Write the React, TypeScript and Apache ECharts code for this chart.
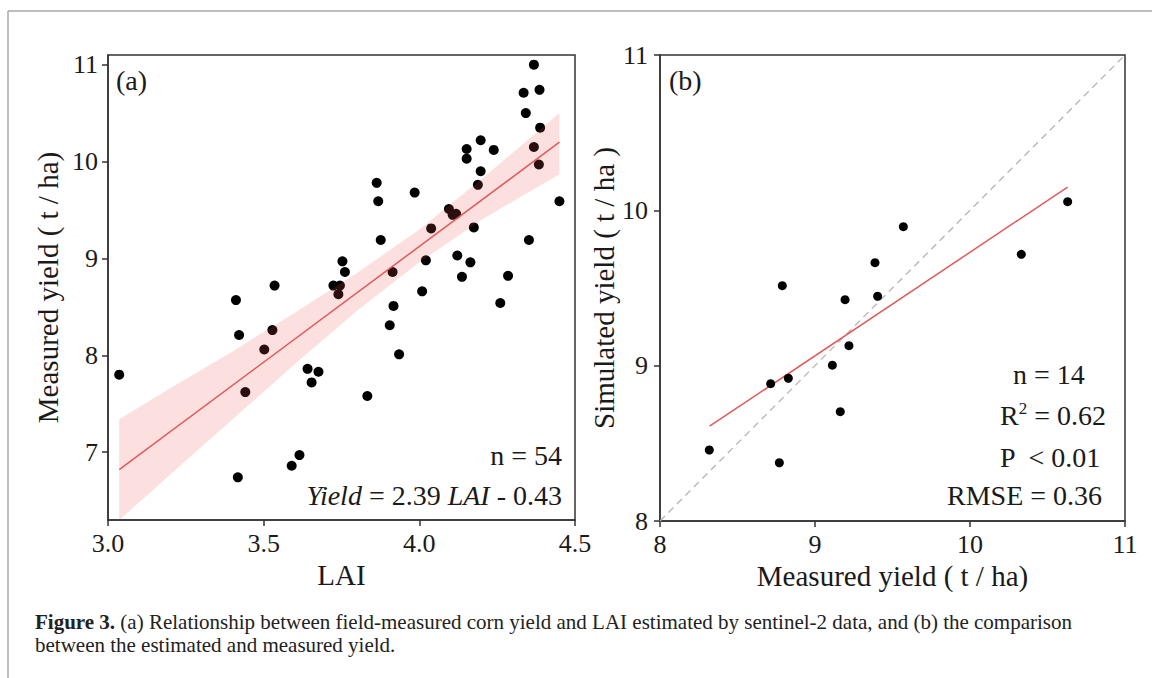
import React, { useEffect, useRef } from "react";
import * as echarts from "echarts";

// ---------- Panel (a): LAI vs measured yield ----------
const laiA = [
  3.036, 3.411, 3.421, 3.417, 3.441, 3.535, 3.528, 3.502, 3.59, 3.615,
  3.641, 3.676, 3.654, 3.753, 3.761, 3.724, 3.745, 3.74, 3.863, 3.868,
  3.876, 3.985, 3.914, 4.021, 4.038, 4.095, 4.107, 4.118, 4.122, 4.164,
  4.175, 4.137, 4.188, 4.197, 4.152, 4.152, 4.197, 4.239, 4.285, 4.352,
  4.45, 4.368, 4.384, 4.388, 4.342, 4.335, 4.386, 4.368, 4.009, 3.917,
  3.905, 3.935, 3.833, 4.26,
];
const yieldA = [
  7.8, 8.57, 8.21, 6.74, 7.62, 8.72, 8.26, 8.06, 6.86, 6.97,
  7.86, 7.83, 7.72, 8.97, 8.86, 8.72, 8.72, 8.63, 9.78, 9.59,
  9.19, 9.68, 8.86, 8.98, 9.31, 9.51, 9.45, 9.46, 9.03, 8.96,
  9.32, 8.81, 9.76, 9.9, 10.13, 10.03, 10.22, 10.12, 8.82, 9.19,
  9.59, 10.15, 9.97, 10.35, 10.5, 10.71, 10.74, 11.0, 8.66, 8.51,
  8.31, 8.01, 7.58, 8.54,
];
const fitLaiA = [3.036, 4.45];
const fitYieldA = [6.82, 10.2];
const bandLai = [3.036, 3.2, 3.4, 3.6, 3.8, 4.0, 4.2, 4.45];
const bandUpper = [7.34, 7.66, 8.04, 8.44, 8.85, 9.3, 9.82, 10.5];
const bandLower = [6.3, 6.77, 7.34, 7.91, 8.46, 8.96, 9.4, 9.87];
const xTicksA = [3.0, 3.5, 4.0, 4.5];
const yTicksA = [7, 8, 9, 10, 11];

// ---------- Panel (b): measured vs simulated ----------
const measuredB = [
  8.318, 8.77, 8.714, 8.828, 8.789, 9.112, 9.163, 9.219, 9.194, 9.387,
  9.404, 9.57, 10.331, 10.63,
];
const simulatedB = [
  8.457, 8.375, 8.884, 8.919, 9.515, 9.003, 8.704, 9.129, 9.425, 9.663,
  9.447, 9.895, 9.717, 10.056,
];
const fitXB = [8.32, 10.63];
const fitYB = [8.61, 10.15];
const oneToOne = [8, 11];

const FONT = "'Liberation Serif', 'Times New Roman', serif";
const AXIS_COLOR = "#333";
const TEXT_COLOR = "#1a1a1a";

export default function App() {
  const ref = useRef<HTMLDivElement>(null);

  useEffect(() => {
    document.body.style.margin = "0";
    if (!ref.current) return;
    const chart = echarts.init(ref.current, undefined, { renderer: "svg" });

    const axisCommon = {
      type: "value",
      axisLine: { show: true, onZero: false, lineStyle: { color: AXIS_COLOR, width: 1.5 } },
      axisTick: { show: true, inside: false, length: 6, lineStyle: { color: AXIS_COLOR, width: 1.5 } },
      splitLine: { show: false },
      axisLabel: { color: TEXT_COLOR, fontFamily: FONT, fontSize: 26, margin: 10 },
      nameTextStyle: { color: TEXT_COLOR, fontFamily: FONT, fontSize: 29 },
      nameLocation: "middle",
    };

    const option: any = {
      animation: false,
      textStyle: { fontFamily: FONT },
      grid: [
        { left: 108, top: 55, width: 467, height: 465, show: true, borderColor: AXIS_COLOR, borderWidth: 1.5, containLabel: false },
        { left: 660, top: 55, width: 465, height: 466, show: true, borderColor: AXIS_COLOR, borderWidth: 1.5, containLabel: false },
      ],
      xAxis: [
        {
          ...axisCommon,
          gridIndex: 0,
          min: xTicksA[0],
          max: xTicksA[xTicksA.length - 1],
          interval: 0.5,
          name: "LAI",
          nameGap: 38,
          axisLabel: { ...axisCommon.axisLabel, formatter: (v: number) => v.toFixed(1) },
        },
        {
          ...axisCommon,
          gridIndex: 1,
          min: 8,
          max: 11,
          interval: 1,
          name: "Measured yield ( t / ha)",
          nameGap: 32,
        },
      ],
      yAxis: [
        {
          ...axisCommon,
          gridIndex: 0,
          min: 6.3,
          max: 11.1,
          name: "Measured yield ( t / ha)",
          nameGap: 46,
          axisTick: { ...axisCommon.axisTick, customValues: yTicksA },
          axisLabel: { ...axisCommon.axisLabel, customValues: yTicksA },
        },
        {
          ...axisCommon,
          gridIndex: 1,
          min: 8,
          max: 11,
          interval: 1,
          name: "Simulated yield ( t / ha )",
          nameGap: 38,
          axisLabel: { ...axisCommon.axisLabel, margin: 12 },
        },
      ],
      series: [
        {
          type: "scatter",
          xAxisIndex: 0,
          yAxisIndex: 0,
          data: laiA.map((x, i) => [x, yieldA[i]]),
          symbolSize: 10,
          itemStyle: { color: "#000", opacity: 1 },
          z: 2,
        },
        {
          type: "custom",
          xAxisIndex: 0,
          yAxisIndex: 0,
          data: bandLai.map((x, i) => [x, bandLower[i], bandUpper[i]]),
          encode: { x: 0, y: [1, 2] },
          z: 3,
          silent: true,
          renderItem: (params: any, api: any) => {
            if (params.dataIndex !== 0) return { type: "group", children: [] };
            const pts: number[][] = [];
            for (let i = 0; i < bandLai.length; i++) pts.push(api.coord([bandLai[i], bandUpper[i]]));
            for (let i = bandLai.length - 1; i >= 0; i--) pts.push(api.coord([bandLai[i], bandLower[i]]));
            return {
              type: "polygon",
              shape: { points: pts },
              style: { fill: "rgba(240,80,80,0.18)", stroke: "none" },
            };
          },
        },
        {
          type: "line",
          xAxisIndex: 0,
          yAxisIndex: 0,
          data: fitLaiA.map((x, i) => [x, fitYieldA[i]]),
          symbol: "none",
          lineStyle: { color: "#e05a5a", width: 1.5 },
          z: 4,
        },
        {
          type: "line",
          xAxisIndex: 1,
          yAxisIndex: 1,
          data: oneToOne.map((v) => [v, v]),
          symbol: "none",
          lineStyle: { color: "#b5b5b5", width: 1.3, type: [7, 5] },
          z: 2,
        },
        {
          type: "line",
          xAxisIndex: 1,
          yAxisIndex: 1,
          data: fitXB.map((x, i) => [x, fitYB[i]]),
          symbol: "none",
          lineStyle: { color: "#e05a5a", width: 1.5 },
          z: 3,
        },
        {
          type: "scatter",
          xAxisIndex: 1,
          yAxisIndex: 1,
          data: measuredB.map((x, i) => [x, simulatedB[i]]),
          symbolSize: 9,
          itemStyle: { color: "#000", opacity: 1 },
          z: 4,
        },
      ],
      graphic: [
        // figure frame
        { type: "line", shape: { x1: 8, y1: 11, x2: 1152, y2: 11 }, style: { stroke: "#a8a8a8", lineWidth: 1.5 } },
        { type: "line", shape: { x1: 8, y1: 11, x2: 8, y2: 678 }, style: { stroke: "#a8a8a8", lineWidth: 1.5 } },
        // panel labels
        { type: "text", x: 116, y: 80, style: { text: "(a)", fontFamily: FONT, fontSize: 28, fill: TEXT_COLOR, align: "left", verticalAlign: "middle" } },
        { type: "text", x: 669, y: 80, style: { text: "(b)", fontFamily: FONT, fontSize: 28, fill: TEXT_COLOR, align: "left", verticalAlign: "middle" } },
        // panel (a) annotations
        { type: "text", x: 562, y: 455, style: { text: "n = 54", fontFamily: FONT, fontSize: 28, fill: TEXT_COLOR, align: "right", verticalAlign: "middle" } },
        {
          type: "text",
          x: 562,
          y: 495,
          style: {
            text: "{i|Yield} = 2.39 {i|LAI} - 0.43",
            fontFamily: FONT,
            fontSize: 28,
            fill: TEXT_COLOR,
            align: "right",
            verticalAlign: "middle",
            rich: { i: { fontStyle: "italic", fontFamily: FONT, fontSize: 28, fill: TEXT_COLOR } },
          },
        },
        // panel (b) annotations
        { type: "text", x: 1013, y: 374, style: { text: "n = 14", fontFamily: FONT, fontSize: 28, fill: TEXT_COLOR, align: "left", verticalAlign: "middle" } },
        {
          type: "text",
          x: 1000,
          y: 415,
          style: {
            text: "R{s|2} = 0.62",
            fontFamily: FONT,
            fontSize: 28,
            fill: TEXT_COLOR,
            align: "left",
            verticalAlign: "middle",
            rich: { s: { fontSize: 17, fontFamily: FONT, fill: TEXT_COLOR, verticalAlign: "top", padding: [0, 0, 14, 0] } },
          },
        },
        { type: "text", x: 1000, y: 457, style: { text: "P  < 0.01", fontFamily: FONT, fontSize: 28, fill: TEXT_COLOR, align: "left", verticalAlign: "middle" } },
        { type: "text", x: 947, y: 495, style: { text: "RMSE = 0.36", fontFamily: FONT, fontSize: 28, fill: TEXT_COLOR, align: "left", verticalAlign: "middle" } },
        // caption
        {
          type: "text",
          x: 35,
          y: 622,
          style: {
            text: "{b|Figure 3.} (a) Relationship between field-measured corn yield and LAI estimated by sentinel-2 data, and (b) the comparison",
            fontFamily: FONT,
            fontSize: 21,
            fill: "#222",
            align: "left",
            verticalAlign: "middle",
            rich: { b: { fontWeight: "bold", fontFamily: FONT, fontSize: 21, fill: "#222" } },
          },
        },
        { type: "text", x: 35, y: 645, style: { text: "between the estimated and measured yield.", fontFamily: FONT, fontSize: 21, fill: "#222", align: "left", verticalAlign: "middle" } },
      ],
    };

    chart.setOption(option);
    return () => chart.dispose();
  }, []);

  return <div ref={ref} style={{ width: 1152, height: 678 }} />;
}
